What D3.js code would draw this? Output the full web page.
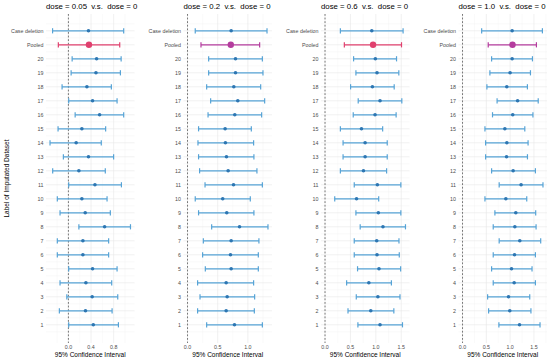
<!DOCTYPE html>
<html><head><meta charset="utf-8">
<script src="https://cdn.jsdelivr.net/npm/d3@7"></script>
<style>body{margin:0;background:#fff}svg{display:block;font-family:"Liberation Sans",Arial,sans-serif}</style>
</head><body><svg id="c" width="550" height="359"></svg>
<script>
const categories = ["1","2","3","4","5","6","7","8","9","10","11","12","13","14","15","16","17","18","19","20","Pooled","Case deletion"];
const titles = ["dose = 0.05  v.s.  dose = 0","dose = 0.2  v.s.  dose = 0","dose = 0.6  v.s.  dose = 0","dose = 1.0  v.s.  dose = 0"];
const tickValues = [[0,0.4,0.8],[0,0.5,1.0],[0,0.5,1.0,1.5],[0,0.5,1.0,1.5]];

const lo1  = [0.005,-0.16,-0.028,-0.148,0.005,-0.196,-0.196,0.185,-0.148,-0.196,0.005,-0.278,-0.089,-0.325,-0.183,0.119,0.005,-0.112,0.048,0.066,-0.178,-0.28];
const est1 = [0.44,0.302,0.42,0.309,0.427,0.256,0.256,0.64,0.297,0.238,0.469,0.185,0.355,0.137,0.238,0.551,0.427,0.327,0.487,0.498,0.363,0.355];
const hi1  = [0.884,0.772,0.872,0.765,0.86,0.711,0.711,1.097,0.741,0.683,0.937,0.652,0.799,0.581,0.658,0.977,0.86,0.759,0.919,0.932,0.907,0.977];

const lo2  = [0.317,0.167,0.207,0.167,0.295,0.25,0.262,0.4,0.183,0.128,0.29,0.2,0.183,0.173,0.183,0.34,0.383,0.317,0.35,0.35,0.223,0.128];
const est2 = [0.778,0.64,0.657,0.64,0.723,0.712,0.723,0.862,0.65,0.583,0.762,0.673,0.645,0.628,0.623,0.783,0.833,0.767,0.795,0.795,0.717,0.723];
const hi2  = [1.24,1.107,1.112,1.095,1.173,1.173,1.183,1.333,1.10,1.04,1.24,1.15,1.10,1.095,1.057,1.228,1.278,1.212,1.25,1.24,1.195,1.317];

const lo3  = [0.647,0.452,0.615,0.425,0.64,0.575,0.575,0.692,0.608,0.191,0.575,0.302,0.355,0.355,0.302,0.555,0.653,0.503,0.608,0.562,0.38,0.302];
const est3 = [1.082,0.9,1.04,0.862,1.062,1.023,1.017,1.14,1.049,0.62,1.03,0.756,0.789,0.789,0.717,0.984,1.082,0.932,1.023,0.99,0.945,0.92];
const hi3  = [1.524,1.354,1.475,1.306,1.488,1.461,1.455,1.583,1.492,1.056,1.492,1.212,1.224,1.224,1.134,1.399,1.511,1.361,1.452,1.407,1.505,1.536];

const lo4  = [0.764,0.548,0.527,0.645,0.611,0.645,0.77,0.645,0.68,0.471,0.77,0.611,0.485,0.485,0.471,0.63,0.726,0.512,0.575,0.611,0.54,0.402];
const est4 = [1.197,0.993,0.966,1.085,1.029,1.092,1.203,1.099,1.119,0.91,1.23,1.063,0.925,0.931,0.889,1.055,1.157,0.93,0.999,1.042,1.05,1.042];
const hi4  = [1.628,1.437,1.412,1.531,1.46,1.531,1.642,1.545,1.537,1.349,1.69,1.531,1.364,1.377,1.308,1.479,1.59,1.363,1.427,1.469,1.552,1.678];

const panels = [[lo1,est1,hi1],[lo2,est2,hi2],[lo3,est3,hi3],[lo4,est4,hi4]];
const pooledColors = ["#e0406e","#b43c9e","#e0406e","#b43c9e"];
const blueLine = "#56a3d6", bluePt = "#2d76b2";

const svg = d3.select("#c");
const pTop = 14, pBottom = 343;
const y = d3.scaleLinear().domain([-0.3, 23.2]).range([pBottom, pTop]);

panels.forEach((p, i) => {
  const [lo, est, hi] = p;
  const left = 137.5 * i + 46, right = 137.5 * (i + 1) - 3;
  const mn = Math.min(0, d3.min(lo)), mx = Math.max(0, d3.max(hi));
  const ex = (mx - mn) * 0.05;
  const x = d3.scaleLinear().domain([mn - ex, mx + ex]).range([left, right]);
  const g = svg.append("g");

  const tv = tickValues[i];
  const step = tv[1] - tv[0];
  const minors = [];
  for (let v = tv[0] - step / 2; v <= mx + ex; v += step) if (v >= mn - ex) minors.push(v);
  g.selectAll(".mx").data(minors).join("line")
    .attr("x1", d => x(d)).attr("x2", d => x(d)).attr("y1", pTop).attr("y2", pBottom)
    .attr("stroke", "#f2f2f2").attr("stroke-width", 0.4);
  const rowsMinor = d3.range(categories.length + 1).map(k => k + 0.5);
  g.selectAll(".my").data(rowsMinor).join("line")
    .attr("x1", left).attr("x2", right).attr("y1", d => y(d)).attr("y2", d => y(d))
    .attr("stroke", "#f2f2f2").attr("stroke-width", 0.4);
  g.selectAll(".Mx").data(tv).join("line")
    .attr("x1", d => x(d)).attr("x2", d => x(d)).attr("y1", pTop).attr("y2", pBottom)
    .attr("stroke", "#e6e6e6").attr("stroke-width", 0.6);
  g.selectAll(".My").data(categories).join("line")
    .attr("x1", left).attr("x2", right).attr("y1", (d, k) => y(k + 1)).attr("y2", (d, k) => y(k + 1))
    .attr("stroke", "#e6e6e6").attr("stroke-width", 0.6);

  g.append("line").attr("x1", x(0)).attr("x2", x(0)).attr("y1", pTop).attr("y2", pBottom)
    .attr("stroke", "#6a6a6a").attr("stroke-width", 0.9).attr("stroke-dasharray", "1.8,1.8");

  const rows = categories.map((c, k) => ({c, k, lo: lo[k], est: est[k], hi: hi[k]}));
  const col = d => d.c === "Pooled" ? pooledColors[i] : blueLine;
  const eb = g.selectAll(".eb").data(rows).join("g");
  eb.append("line").attr("x1", d => x(d.lo)).attr("x2", d => x(d.hi))
    .attr("y1", d => y(d.k + 1)).attr("y2", d => y(d.k + 1))
    .attr("stroke", col).attr("stroke-width", 1.2);
  eb.append("line").attr("x1", d => x(d.lo)).attr("x2", d => x(d.lo))
    .attr("y1", d => y(d.k + 1) - 2.6).attr("y2", d => y(d.k + 1) + 2.6)
    .attr("stroke", col).attr("stroke-width", 1.2);
  eb.append("line").attr("x1", d => x(d.hi)).attr("x2", d => x(d.hi))
    .attr("y1", d => y(d.k + 1) - 2.6).attr("y2", d => y(d.k + 1) + 2.6)
    .attr("stroke", col).attr("stroke-width", 1.2);
  eb.append("circle").attr("cx", d => x(d.est)).attr("cy", d => y(d.k + 1))
    .attr("r", d => d.c === "Pooled" ? 3.2 : 1.8)
    .attr("fill", d => d.c === "Pooled" ? pooledColors[i] : bluePt);

  g.selectAll(".yl").data(categories).join("text")
    .attr("x", left - 2.5).attr("y", (d, k) => y(k + 1)).attr("dy", "0.35em")
    .attr("text-anchor", "end").attr("font-size", 5.3).attr("fill", "#4d4d4d").text(d => d);
  g.selectAll(".xl").data(tv).join("text")
    .attr("x", d => x(d)).attr("y", 349)
    .attr("text-anchor", "middle").attr("font-size", 5.3).attr("fill", "#4d4d4d").text(d3.format(".1f"));
  g.append("text").attr("x", (left + right) / 2).attr("y", 356.5).attr("text-anchor", "middle")
    .attr("font-size", 6.5).attr("fill", "#000").text("95% Confidence Interval");
  g.append("text").attr("x", left).attr("y", 8.8).attr("font-size", 7.8).attr("fill", "#000")
    .attr("xml:space", "preserve").style("white-space", "pre").text(titles[i]);
});

svg.append("text").attr("transform", `translate(9,${(pTop + pBottom) / 2}) rotate(-90)`)
  .attr("text-anchor", "middle").attr("font-size", 6.5).attr("fill", "#000")
  .text("Label of Imputated Dataset");
</script></body></html>
